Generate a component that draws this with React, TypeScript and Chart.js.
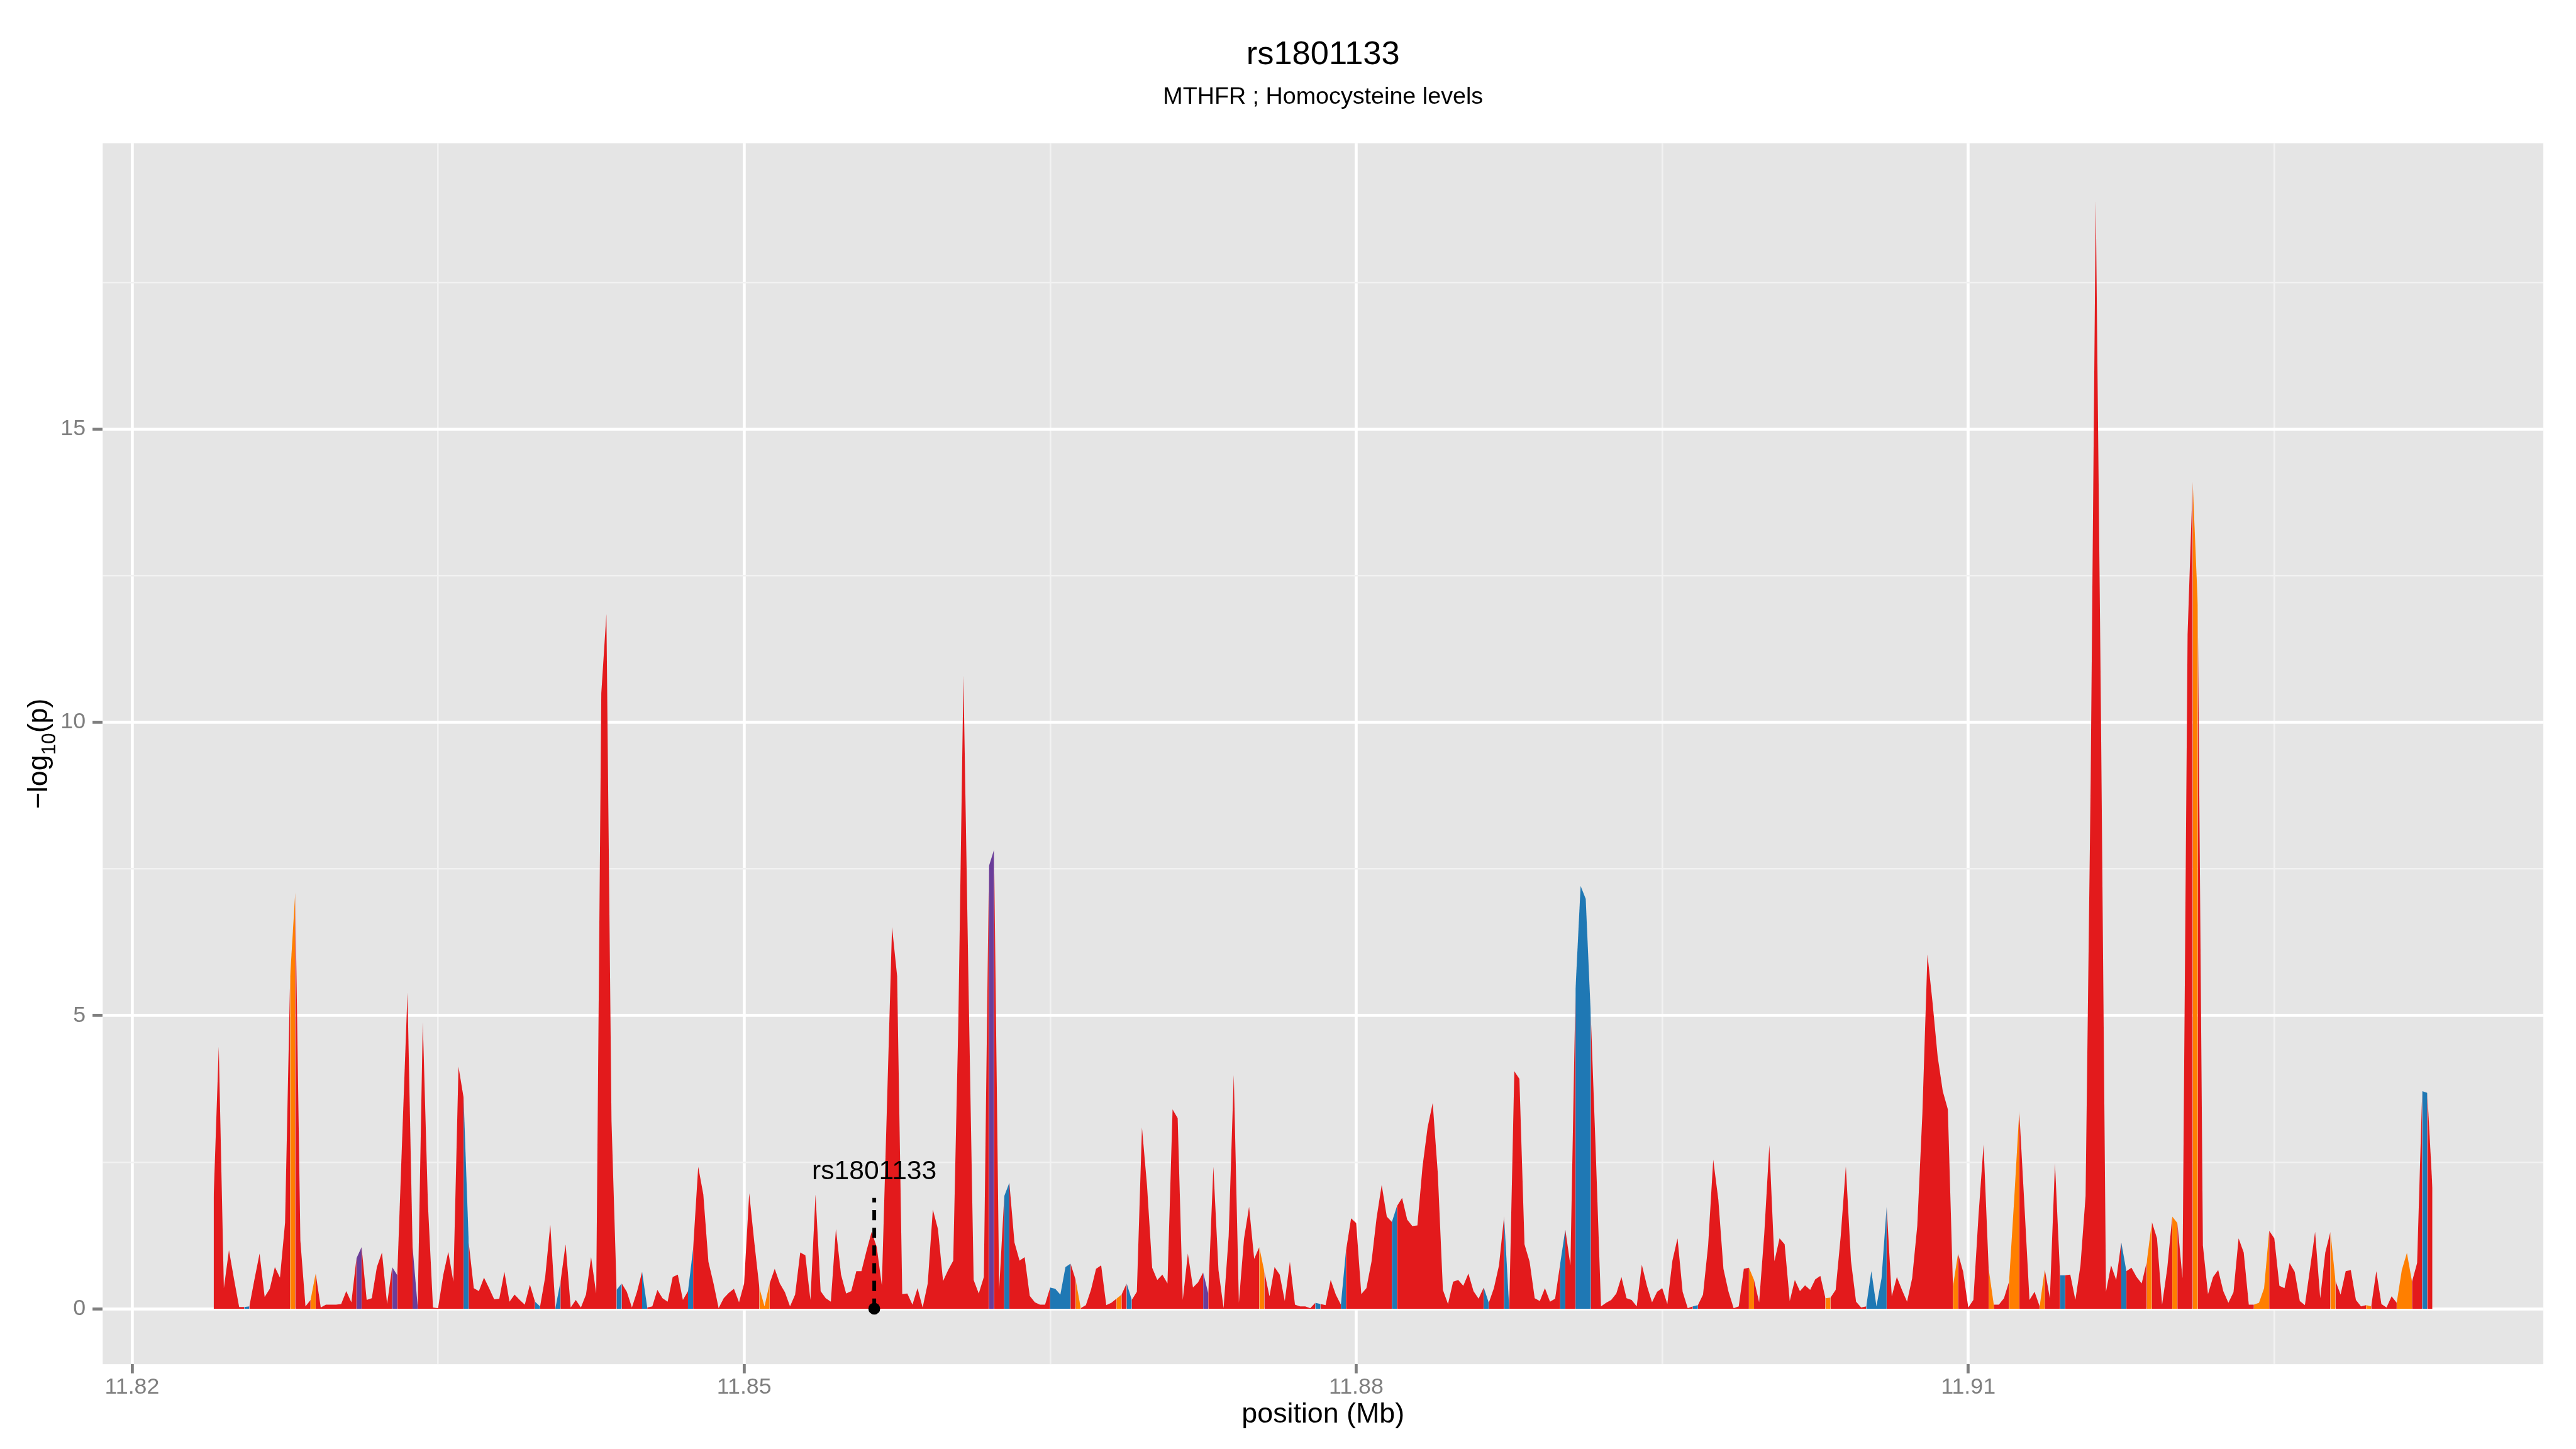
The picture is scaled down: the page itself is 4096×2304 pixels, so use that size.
import React, { useEffect, useRef } from 'react';
import { Chart, registerables } from 'chart.js';

Chart.register(...registerables);

// ---------- scale of the reproduction ----------
const S = 0.853;
const W = 4096;
const H = 2304;
const FONT = '"Liberation Sans", Arial, Helvetica, sans-serif';

// ---------- texts ----------
const TITLE = 'rs1801133';
const SUBTITLE = 'MTHFR ; Homocysteine levels';
const X_TITLE = 'position (Mb)';
const SNP_ID = 'rs1801133';

// ---------- data ----------
// SNPs are spaced every 250 bp from 11.824 Mb
const START_MB = 11.824;
const STEP_MB = 0.00025;
const logP = [
  1.9, 4.47, 0.35, 1.0, 0.5, 0.03, 0.03, 0.04, 0.5, 0.94,
  0.2, 0.34, 0.71, 0.53, 1.47, 5.67, 7.1, 1.16, 0.04, 0.15,
  0.6, 0.02, 0.07, 0.07, 0.07, 0.08, 0.3, 0.11, 0.86, 1.05,
  0.15, 0.18, 0.71, 0.96, 0.08, 0.71, 0.57, 3.0, 5.39, 1.05,
  0.04, 4.89, 1.8, 0.02, 0.01, 0.57, 0.97, 0.46, 4.13, 3.6,
  1.13, 0.35, 0.3, 0.53, 0.35, 0.16, 0.17, 0.63, 0.12, 0.24,
  0.15, 0.07, 0.41, 0.12, 0.04, 0.54, 1.43, 0.01, 0.46, 1.1,
  0.02, 0.15, 0.02, 0.24, 0.88, 0.26, 10.5, 11.85, 3.2, 0.32,
  0.43, 0.29, 0.02, 0.29, 0.63, 0.02, 0.04, 0.32, 0.18, 0.12,
  0.54, 0.58, 0.15, 0.3, 1.02, 2.42, 1.95, 0.8, 0.43, 0.01,
  0.18, 0.27, 0.34, 0.11, 0.43, 1.97, 1.13, 0.35, 0.04, 0.43,
  0.68, 0.43, 0.28, 0.04, 0.24, 0.96, 0.91, 0.15, 1.95, 0.3,
  0.18, 0.12, 1.36, 0.58, 0.26, 0.3, 0.64, 0.64, 0.99, 1.31,
  1.05, 0.4, 3.45, 6.51, 5.67, 0.25, 0.26, 0.07, 0.35, 0.02,
  0.43, 1.69, 1.36, 0.47, 0.66, 0.82, 4.9, 10.8, 5.5, 0.49,
  0.26, 0.54, 7.55, 7.83, 0.32, 1.92, 2.15, 1.13, 0.82, 0.88,
  0.22, 0.11, 0.07, 0.07, 0.36, 0.34, 0.24, 0.71, 0.77, 0.49,
  0.01, 0.06, 0.32, 0.68, 0.74, 0.06, 0.1, 0.17, 0.24, 0.43,
  0.15, 0.29, 3.09, 2.09, 0.7, 0.49, 0.58, 0.43, 3.4, 3.25,
  0.15, 0.94, 0.36, 0.45, 0.62, 0.26, 2.42, 0.66, 0.01, 1.24,
  3.99, 0.1, 1.19, 1.74, 0.85, 1.05, 0.63, 0.21, 0.71, 0.58,
  0.13, 0.8, 0.07, 0.04, 0.04, 0.01, 0.1, 0.08, 0.06, 0.49,
  0.24, 0.07, 0.99, 1.54, 1.46, 0.25, 0.35, 0.8, 1.55, 2.11,
  1.57, 1.48, 1.75, 1.89, 1.52, 1.41, 1.42, 2.42, 3.09, 3.51,
  2.31, 0.32, 0.08, 0.46, 0.49, 0.39, 0.6, 0.3, 0.17, 0.36,
  0.1, 0.35, 0.74, 1.58, 0.01, 4.05, 3.92, 1.1, 0.8, 0.18,
  0.13, 0.35, 0.12, 0.17, 0.77, 1.35, 0.74, 5.45, 7.21, 6.99,
  5.0, 2.59, 0.04, 0.1, 0.15, 0.26, 0.54, 0.18, 0.15, 0.04,
  0.75, 0.39, 0.11, 0.29, 0.35, 0.08, 0.82, 1.2, 0.29, 0.01,
  0.04, 0.06, 0.24, 1.08, 2.54, 1.86, 0.68, 0.29, 0.01, 0.04,
  0.68, 0.7, 0.49, 0.11, 1.27, 2.79, 0.81, 1.2, 1.1, 0.13,
  0.49, 0.3, 0.4, 0.32, 0.5, 0.56, 0.18, 0.19, 0.32, 1.24,
  2.43, 0.82, 0.12, 0.02, 0.04, 0.64, 0.04, 0.52, 1.74, 0.21,
  0.54, 0.32, 0.12, 0.52, 1.41, 3.32, 6.04, 5.22, 4.3, 3.71,
  3.4, 0.38, 0.94, 0.63, 0.02, 0.15, 1.58, 2.8, 0.68, 0.07,
  0.07, 0.18, 0.46, 1.86, 3.37, 1.78, 0.15, 0.29, 0.04, 0.67,
  0.18, 2.48, 0.57, 0.57, 0.58, 0.15, 0.74, 1.92, 9.0, 18.9,
  10.3, 0.29, 0.74, 0.49, 1.13, 0.64, 0.7, 0.54, 0.43, 0.8,
  1.48, 1.2, 0.07, 0.68, 1.57, 1.46, 0.52, 11.5, 14.1, 12.0,
  1.08, 0.25, 0.54, 0.66, 0.3, 0.1, 0.28, 1.2, 0.96, 0.07,
  0.07, 0.1, 0.35, 1.33, 1.2, 0.39, 0.35, 0.78, 0.63, 0.13,
  0.06, 0.68, 1.31, 0.18, 0.96, 1.31, 0.47, 0.24, 0.64, 0.66,
  0.15, 0.04, 0.06, 0.04, 0.64, 0.08, 0.02, 0.21, 0.1, 0.66,
  0.95, 0.46, 0.78, 3.71, 3.68, 2.06,
];
const positions = logP.map((_, i) => START_MB + i * STEP_MB);

// LD class of each stretch between consecutive SNPs (index of its left SNP); others are red
const blueSegs = [6, 49, 63, 67, 79, 84, 93, 155, 164, 165, 166, 167, 179, 216, 221, 231, 249, 253, 264, 267, 268, 269, 290, 324, 325, 326, 327, 362, 374, 433];
const orangeSegs = [15, 19, 107, 108, 169, 177, 205, 301, 316, 341, 348, 352, 353, 358, 379, 384, 388, 400, 401, 402, 415, 422, 428, 429, 430];
const purpleSegs = [28, 35, 39, 152, 194];

// highlighted SNP
const SNP_POS = 11.856378;
const SNP_LINE_TOP = 1.89;
const SNP_LABEL_Y = 2.21;

// axes
const X_MIN = 11.818563;
const X_MAX = 11.938187;
const Y_MIN = -0.9465;
const Y_MAX = 19.877;
const xMajor = [11.82, 11.85, 11.88, 11.91];
const xMinor = [11.835, 11.865, 11.895, 11.925];
const yMajor = [0, 5, 10, 15];
const yMinor = [2.5, 7.5, 12.5, 17.5];

// ---------- style ----------
const RED = '#E31A1C';
const ORANGE = '#FF7F00';
const BLUE = '#1F78B4';
const PURPLE = '#6A3D9A';
const PANEL_BG = '#E5E5E5';
const MINOR_GRID = '#F2F2F2';
const AXIS_GREY = '#7F7F7F';

// reference-pixel layout (multiplied by S)
const PANEL = { left: 191.5, right: 4741, top: 267, bottom: 2543 };

function segColor(i: number): string {
  if (blueSegs.includes(i)) return BLUE;
  if (orangeSegs.includes(i)) return ORANGE;
  if (purpleSegs.includes(i)) return PURPLE;
  return RED;
}

const panelBgPlugin = {
  id: 'panelBg',
  beforeDraw(chart: any) {
    const { ctx, chartArea } = chart;
    ctx.save();
    ctx.fillStyle = PANEL_BG;
    ctx.fillRect(chartArea.left, chartArea.top, chartArea.right - chartArea.left, chartArea.bottom - chartArea.top);
    ctx.restore();
  },
};

const textPlugin = {
  id: 'texts',
  afterDraw(chart: any) {
    const { ctx, chartArea, scales } = chart;
    const cx = (chartArea.left + chartArea.right) / 2;
    ctx.save();
    ctx.fillStyle = '#000000';
    ctx.textAlign = 'center';
    ctx.textBaseline = 'alphabetic';

    ctx.font = `${61.5 * S}px ${FONT}`;
    ctx.fillText(TITLE, cx, 119 * S);
    ctx.font = `${44.2 * S}px ${FONT}`;
    ctx.fillText(SUBTITLE, cx, 193 * S);

    ctx.font = `${52.5 * S}px ${FONT}`;
    ctx.fillText(X_TITLE, cx, 2652 * S);

    // y title: -log10(p), rotated
    const big = 52.5 * S;
    const small = 37 * S;
    const cy = (chartArea.top + chartArea.bottom) / 2;
    ctx.save();
    ctx.translate(88 * S, cy);
    ctx.rotate(-Math.PI / 2);
    ctx.textAlign = 'left';
    ctx.font = `${big}px ${FONT}`;
    const p1 = '\u2212log';
    const w1 = ctx.measureText(p1).width;
    ctx.font = `${small}px ${FONT}`;
    const p2 = '10';
    const w2 = ctx.measureText(p2).width;
    ctx.font = `${big}px ${FONT}`;
    const p3 = '(p)';
    const w3 = ctx.measureText(p3).width;
    let x = -(w1 + w2 + w3) / 2;
    ctx.fillText(p1, x, 0);
    x += w1;
    ctx.font = `${small}px ${FONT}`;
    ctx.fillText(p2, x, 0.3 * big);
    x += w2;
    ctx.font = `${big}px ${FONT}`;
    ctx.fillText(p3, x, 0);
    ctx.restore();

    // SNP label
    const px = scales.x.getPixelForValue(SNP_POS);
    const py = scales.y.getPixelForValue(SNP_LABEL_Y);
    ctx.textAlign = 'center';
    ctx.font = `${50 * S}px ${FONT}`;
    ctx.fillText(SNP_ID, px, py);
    ctx.restore();
  },
};

export default function App() {
  const ref = useRef<HTMLCanvasElement | null>(null);

  useEffect(() => {
    const canvas = ref.current;
    if (!canvas) return;

    const areaData = positions.map((x, i) => ({ x, y: logP[i] }));

    const chart = new Chart(canvas, {
      type: 'line',
      data: {
        datasets: [
          {
            type: 'scatter',
            data: [{ x: SNP_POS, y: 0 }],
            backgroundColor: '#000000',
            borderWidth: 0,
            pointRadius: 11 * S,
            order: 1,
          } as any,
          {
            type: 'line',
            data: [
              { x: SNP_POS, y: 0 },
              { x: SNP_POS, y: SNP_LINE_TOP },
            ],
            borderColor: '#000000',
            borderWidth: 7 * S,
            borderDash: [19 * S, 14 * S],
            borderCapStyle: 'butt',
            pointRadius: 0,
            fill: false,
            order: 2,
          },
          {
            type: 'line',
            data: areaData,
            fill: 'origin',
            backgroundColor: RED,
            borderColor: 'rgba(0,0,0,0)',
            borderWidth: 0,
            pointRadius: 0,
            tension: 0,
            order: 3,
            segment: {
              backgroundColor: (ctx: any) => segColor(ctx.p0DataIndex),
            },
          } as any,
        ],
      },
      options: {
        responsive: false,
        animation: false,
        devicePixelRatio: 1,
        events: [],
        layout: {
          autoPadding: false,
          padding: {
            top: PANEL.top * S,
            right: W - PANEL.right * S,
            bottom: 0,
            left: 0,
          },
        },
        plugins: {
          legend: { display: false },
          tooltip: { enabled: false },
          title: { display: false },
        },
        scales: {
          x: {
            type: 'linear',
            min: X_MIN,
            max: X_MAX,
            afterBuildTicks: (scale: any) => {
              scale.ticks = [...xMajor, ...xMinor].sort((a, b) => a - b).map((v) => ({ value: v }));
            },
            afterFit: (scale: any) => {
              scale.height = H - PANEL.bottom * S;
            },
            border: { display: false },
            grid: {
              color: (c: any) => (xMajor.includes(c.tick?.value) ? '#FFFFFF' : MINOR_GRID),
              lineWidth: (c: any) => (xMajor.includes(c.tick?.value) ? 5.6 * S : 3 * S),
              tickColor: (c: any) => (xMajor.includes(c.tick?.value) ? AXIS_GREY : 'rgba(0,0,0,0)'),
              tickWidth: 5.6 * S,
              tickLength: 17 * S,
              drawTicks: true,
            },
            ticks: {
              autoSkip: false,
              maxRotation: 0,
              minRotation: 0,
              padding: 1,
              color: AXIS_GREY,
              font: { family: FONT, size: 42 * S },
              callback: (v: any) => (xMajor.includes(v) ? Number(v).toFixed(2) : ''),
            },
          },
          y: {
            type: 'linear',
            min: Y_MIN,
            max: Y_MAX,
            afterBuildTicks: (scale: any) => {
              scale.ticks = [...yMajor, ...yMinor].sort((a, b) => a - b).map((v) => ({ value: v }));
            },
            afterFit: (scale: any) => {
              scale.width = PANEL.left * S;
            },
            border: { display: false },
            grid: {
              color: (c: any) => (yMajor.includes(c.tick?.value) ? '#FFFFFF' : MINOR_GRID),
              lineWidth: (c: any) => (yMajor.includes(c.tick?.value) ? 5.6 * S : 3 * S),
              tickColor: (c: any) => (yMajor.includes(c.tick?.value) ? AXIS_GREY : 'rgba(0,0,0,0)'),
              tickWidth: 5.6 * S,
              tickLength: 19 * S,
              drawTicks: true,
            },
            ticks: {
              autoSkip: false,
              padding: 13 * S,
              color: AXIS_GREY,
              font: { family: FONT, size: 42 * S },
              callback: (v: any) => (yMajor.includes(v) ? String(v) : ''),
            },
          },
        },
      },
      plugins: [panelBgPlugin, textPlugin],
    } as any);

    return () => {
      chart.destroy();
    };
  }, []);

  return (
    <div style={{ position: 'fixed', left: 0, top: 0, width: W, height: H, background: '#FFFFFF' }}>
      <canvas ref={ref} width={W} height={H} style={{ display: 'block', width: W, height: H }} />
    </div>
  );
}
